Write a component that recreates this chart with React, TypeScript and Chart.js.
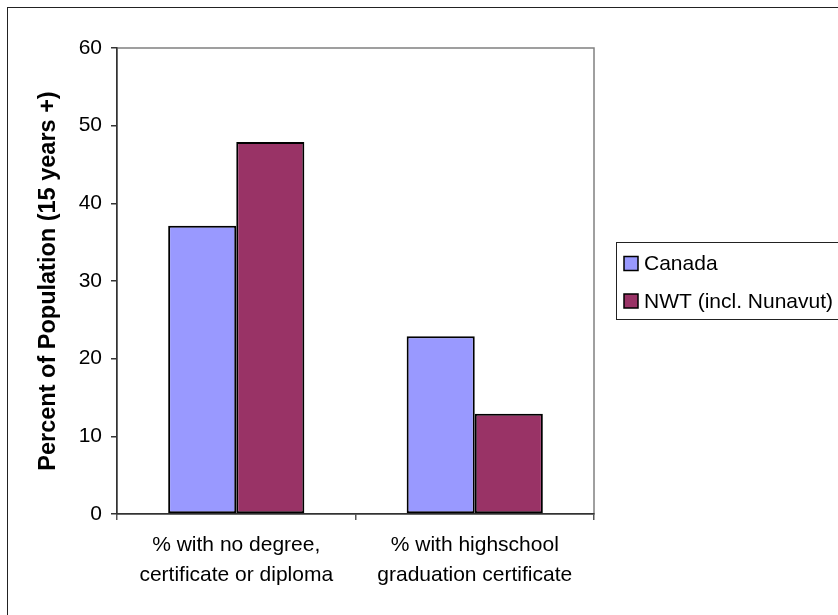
import React, { useEffect, useRef } from "react";
import { Chart, registerables } from "chart.js";

Chart.register(...registerables);

const categories: string[][] = [
  ["% with no degree,", "certificate or diploma"],
  ["% with highschool", "graduation certificate"],
];
const canadaValues: number[] = [37.1, 22.9];
const nwtValues: number[] = [47.9, 12.9];
const seriesNames: string[] = ["Canada", "NWT (incl. Nunavut)"];
const seriesColors: string[] = ["#9999FF", "#993366"];
const yTitle = "Percent of Population (15 years +)";

const W = 838;
const H = 615;
const FONT = "'Liberation Sans', Arial, sans-serif";

// Outer frame, gray plot-area border and the boxed legend on the right
const decorations = {
  id: "decorations",
  beforeDraw(chart: any) {
    const { ctx, chartArea } = chart;
    ctx.save();
    ctx.fillStyle = "#ffffff";
    ctx.fillRect(0, 0, W, H);
    ctx.strokeStyle = "#222222";
    ctx.lineWidth = 1;
    ctx.strokeRect(7.5, 7.5, W + 20, H + 20);
    ctx.strokeStyle = "#808080";
    ctx.lineWidth = 1.5;
    ctx.strokeRect(chartArea.left, chartArea.top, chartArea.right - chartArea.left, chartArea.bottom - chartArea.top);
    ctx.restore();
  },
  afterDraw(chart: any) {
    const { ctx } = chart;
    const boxLeft = 616;
    const boxTop = 242;
    const rowYs = [263.5, 301];
    ctx.save();
    ctx.strokeStyle = "#222222";
    ctx.lineWidth = 1;
    ctx.strokeRect(boxLeft + 0.5, boxTop + 0.5, W, 77);
    ctx.font = `21px ${FONT}`;
    ctx.textBaseline = "middle";
    ctx.textAlign = "left";
    chart.data.datasets.forEach((ds: any, i: number) => {
      const cy = rowYs[i];
      ctx.fillStyle = ds.backgroundColor;
      ctx.fillRect(624, cy - 7, 14, 14);
      ctx.strokeStyle = "#000000";
      ctx.lineWidth = 1.5;
      ctx.strokeRect(624, cy - 7, 14, 14);
      ctx.fillStyle = "#000000";
      ctx.fillText(ds.label, 644, cy + 1);
    });
    ctx.restore();
  },
};

export default function App() {
  const canvasRef = useRef<HTMLCanvasElement | null>(null);

  useEffect(() => {
    const canvas = canvasRef.current;
    if (!canvas) return;
    const chart = new Chart(canvas, {
      type: "bar",
      data: {
        labels: categories,
        datasets: [
          {
            label: seriesNames[0],
            data: canadaValues,
            backgroundColor: seriesColors[0],
            borderColor: "#000000",
            borderWidth: 2,
            borderSkipped: false,
          },
          {
            label: seriesNames[1],
            data: nwtValues,
            backgroundColor: seriesColors[1],
            borderColor: "#000000",
            borderWidth: 2,
            borderSkipped: false,
          },
        ],
      },
      options: {
        animation: false,
        responsive: false,
        devicePixelRatio: 1,
        categoryPercentage: 0.571,
        barPercentage: 1,
        layout: { padding: { left: 0, right: W - 594, top: 48, bottom: 0 } },
        plugins: {
          legend: { display: false },
          tooltip: { enabled: false },
        },
        scales: {
          x: {
            afterFit: (scale: any) => {
              scale.height = H - 514;
            },
            border: { display: true, color: "#333333", width: 1.5 },
            grid: {
              offset: true,
              drawOnChartArea: false,
              drawTicks: true,
              tickLength: 6,
              color: "#555555",
              lineWidth: 1.5,
            },
            ticks: {
              color: "#000000",
              padding: 11,
              font: { family: FONT, size: 21, lineHeight: 1.4 },
              maxRotation: 0,
              autoSkip: false,
            },
          },
          y: {
            min: 0,
            max: 60,
            afterFit: (scale: any) => {
              scale.width = 117;
            },
            border: { display: true, color: "#333333", width: 1.5 },
            grid: {
              drawOnChartArea: false,
              drawTicks: true,
              tickLength: 6,
              color: "#333333",
              lineWidth: 1.5,
            },
            ticks: {
              stepSize: 10,
              color: "#000000",
              padding: 9,
              font: { family: FONT, size: 21 },
            },
            title: {
              display: true,
              text: yTitle,
              color: "#000000",
              font: { family: FONT, size: 23.5, weight: "bold", lineHeight: 1 },
              padding: { top: 37, bottom: 0 },
            },
          },
        },
      },
      plugins: [decorations],
    });
    return () => chart.destroy();
  }, []);

  return (
    <div style={{ position: "fixed", left: 0, top: 0, width: W, height: H, background: "#fff" }}>
      <canvas ref={canvasRef} width={W} height={H} style={{ width: W, height: H, display: "block" }} />
    </div>
  );
}
